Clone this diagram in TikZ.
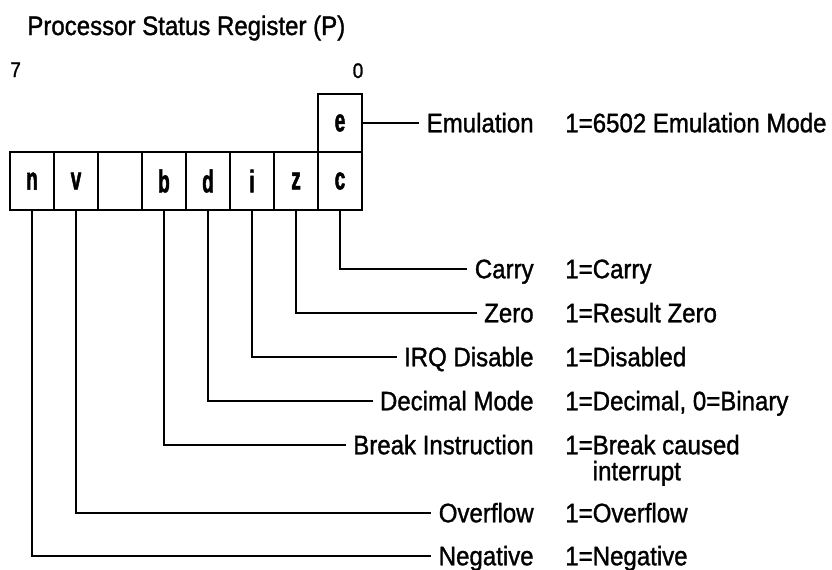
\documentclass[tikz,border=0pt]{standalone}
\usepackage{fontspec}
\setmainfont{Liberation Sans}[FakeStretch=0.9, FakeBold=1.2]
\newfontfamily\bitfont{Liberation Sans}[FakeStretch=0.6, FakeBold=1.5]

\begin{document}
\begin{tikzpicture}[x=0.02cm, y=-0.02cm,
  font=\fontsize{15.2}{18}\selectfont,
  bit/.style={rectangle, draw, line width=1.5pt, minimum width=0.88cm, minimum height=1.16cm,
              inner sep=0pt, font=\bitfont\bfseries\fontsize{18}{18}\selectfont},
  flag/.style={anchor=east, inner xsep=4pt, inner ysep=0pt, text height=0.37cm, text depth=0pt},
  desc/.style={anchor=west, inner sep=0pt, text height=0.37cm, text depth=0pt},
  wire/.style={line width=1.2pt}
]
  \useasboundingbox (0,0) rectangle (832,569);

  \node[anchor=base west, inner sep=0pt] (title) at (27,35) {Processor Status Register (P)};
  \node[anchor=base west, inner sep=0pt, font=\fontsize{12}{14}\selectfont] (msb) at (10,77) {7};
  \node[anchor=base, inner sep=0pt, font=\fontsize{12}{14}\selectfont] (lsb) at (358,78) {0};

  \node[bit] (N) at (32,181) {n};
  \node[bit] (V) at (76,181) {v};
  \node[bit] (U) at (120,181) {};
  \node[bit] (B) at (164,181) {b};
  \node[bit] (D) at (208,181) {d};
  \node[bit] (I) at (252,181) {i};
  \node[bit] (Z) at (296,181) {z};
  \node[bit] (C) at (340,181) {c};
  \node[bit] (E) at (340,123) {e};

  \node[flag] (emul) at (541,123) {Emulation};
  \node[flag] (carry) at (541,269) {Carry};
  \node[flag] (zero) at (541,313) {Zero};
  \node[flag] (irq) at (541,357) {IRQ Disable};
  \node[flag] (dec) at (541,401) {Decimal Mode};
  \node[flag] (brk) at (541,445) {Break Instruction};
  \node[flag] (ovf) at (541,513) {Overflow};
  \node[flag] (neg) at (541,556) {Negative};

  \node[desc] (emuld) at (565,123) {1=6502 Emulation Mode};
  \node[desc] (carryd) at (565,269) {1=Carry};
  \node[desc] (zerod) at (565,313) {1=Result Zero};
  \node[desc] (irqd) at (565,357) {1=Disabled};
  \node[desc] (decd) at (565,401) {1=Decimal, 0=Binary};
  \node[desc] (brkd) at (565,445) {1=Break caused};
  \node[desc] (brkd2) at (565,471) {\phantom{1=}interrupt};
  \node[desc] (ovfd) at (565,513) {1=Overflow};
  \node[desc] (negd) at (565,556) {1=Negative};

  \draw[wire] (E) -- (emul);
  \draw[wire] (C.south) |- (carry);
  \draw[wire] (Z.south) |- (zero);
  \draw[wire] (I.south) |- (irq);
  \draw[wire] (D.south) |- (dec);
  \draw[wire] (B.south) |- (brk);
  \draw[wire] (V.south) |- (ovf);
  \draw[wire] (N.south) |- (neg);
\end{tikzpicture}
\end{document}
